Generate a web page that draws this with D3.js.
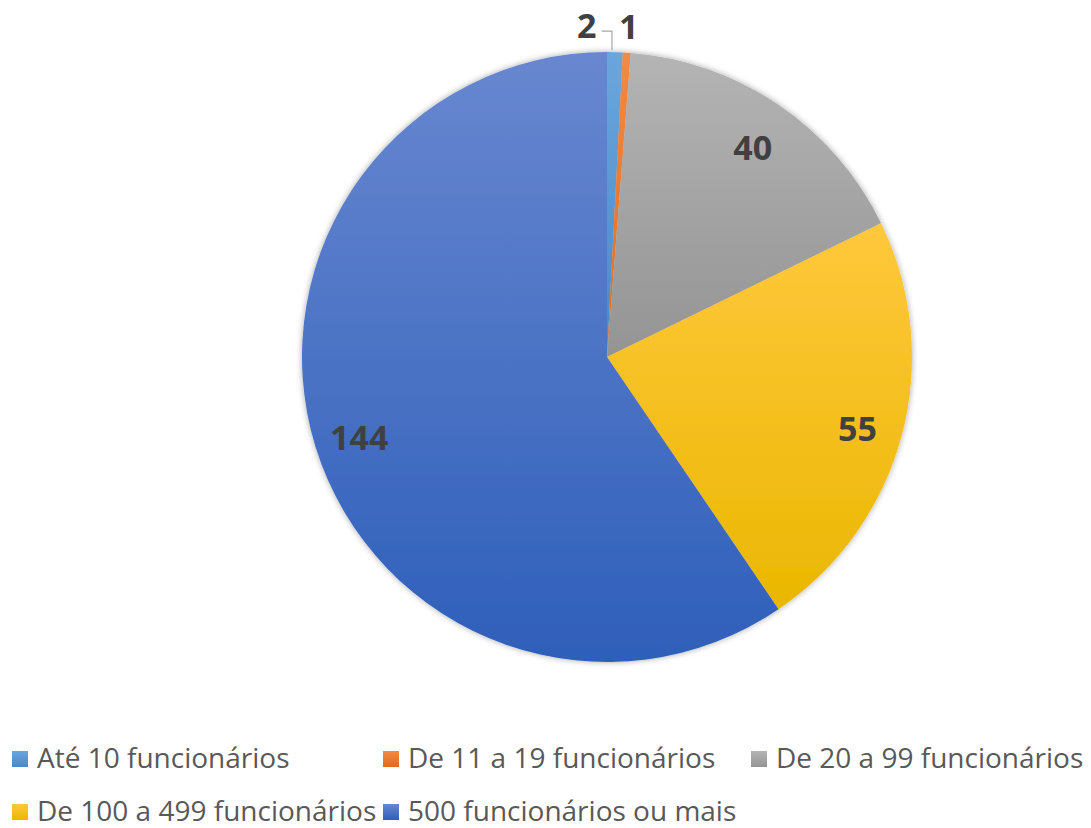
<!DOCTYPE html>
<meta charset="utf-8" />
<html>
  <head>
    <script src="https://d3js.org/d3.v7.min.js"></script>
    <style>
      body {
        margin: 0;
        background-color: white;
      }
    </style>
  </head>
  <body>
    <div id="chart"></div>
  </body>

  <script>
    // chart data
    const categories = ["Até 10 funcionários", "De 11 a 19 funcionários", "De 20 a 99 funcionários",
                        "De 100 a 499 funcionários", "500 funcionários ou mais"];
    const values = [2, 1, 40, 55, 144];
    const colorsTop = ["#6aa6dd", "#f28a44", "#b4b4b4", "#ffc83d", "#6887d0"];
    const colorsBottom = ["#4a88c8", "#e06b1d", "#949494", "#eab700", "#2e5fba"];
    const legendRows = [[0, 1, 2], [3, 4]];

    const width = 1091;
    const height = 828;
    const cx = 607, cy = 357;
    const radius = 305;

    const svg = d3.select('#chart').append("svg")
      .attr("width", width)
      .attr("height", height);

    const defs = svg.append("defs");

    categories.forEach((c, i) => {
      const g = defs.append("linearGradient")
        .attr("id", "grad" + i)
        .attr("x1", 0).attr("y1", 0).attr("x2", 0).attr("y2", 1);
      g.append("stop").attr("offset", "0%").attr("stop-color", colorsTop[i]);
      g.append("stop").attr("offset", "100%").attr("stop-color", colorsBottom[i]);
    });

    const shadow = defs.append("filter").attr("id", "shadow")
      .attr("x", "-10%").attr("y", "-10%").attr("width", "120%").attr("height", "120%");
    shadow.append("feGaussianBlur").attr("in", "SourceAlpha").attr("stdDeviation", 3).attr("result", "blur");
    shadow.append("feComponentTransfer").append("feFuncA").attr("type", "linear").attr("slope", 0.35);
    const merge = shadow.append("feMerge");
    merge.append("feMergeNode");
    merge.append("feMergeNode").attr("in", "SourceGraphic");

    const pie = d3.pie().sort(null).value(d => d);
    const arcs = pie(values);

    const arc = d3.arc().innerRadius(0).outerRadius(radius);
    const labelArc = d3.arc().innerRadius(radius * 0.85).outerRadius(radius * 0.85);
    const outerArc = d3.arc().innerRadius(radius + 30).outerRadius(radius + 30);

    const pieG = svg.append("g")
      .attr("transform", `translate(${cx},${cy})`);

    pieG.append("g")
      .attr("filter", "url(#shadow)")
      .selectAll("path")
      .data(arcs)
      .join("path")
        .attr("d", arc)
        .attr("fill", (d, i) => `url(#grad${i})`);

    // labels for large slices inside, small ones outside
    const labelG = pieG.append("g")
      .style("font-family", "'Open Sans', sans-serif")
      .style("font-weight", "bold")
      .style("font-size", "34px")
      .style("fill", "#404040");

    arcs.forEach((d, i) => {
      let p;
      let dx = 0, dy = 4;
      if (d.data < 10) {
        p = outerArc.centroid(d);
        dy = 3;
        if (i === 0) dx = -29;
      } else {
        p = labelArc.centroid(d);
      }
      labelG.append("text")
        .attr("x", p[0] + dx)
        .attr("y", p[1] + dy)
        .attr("text-anchor", "middle")
        .attr("dominant-baseline", "central")
        .text(d.data);

      if (i === 0) {
        const edge = d3.arc().innerRadius(radius + 2).outerRadius(radius + 2).centroid(d);
        pieG.append("polyline")
          .attr("points", [[p[0] + dx + 15, p[1] + 9], [edge[0] - 3, p[1] + 9], [edge[0] - 3, edge[1]]].map(q => q.join(",")).join(" "))
          .attr("fill", "none")
          .attr("stroke", "#a6a6a6")
          .attr("stroke-width", 1.2);
      }
    });

    // legend
    const legendX = [12, 383, 751];
    const legendY = [757, 810];
    const legendG = svg.append("g")
      .style("font-family", "'Open Sans', sans-serif")
      .style("font-size", "28px")
      .style("fill", "#595959");

    legendRows.forEach((row, r) => {
      row.forEach((idx, k) => {
        const item = legendG.append("g")
          .attr("transform", `translate(${legendX[k]},${legendY[r]})`);
        item.append("rect")
          .attr("x", 0).attr("y", -6)
          .attr("width", 16).attr("height", 16)
          .attr("fill", `url(#grad${idx})`);
        item.append("text")
          .attr("x", 25)
          .attr("y", 0)
          .attr("dominant-baseline", "central")
          .text(categories[idx]);
      });
    });
  </script>
</html>
